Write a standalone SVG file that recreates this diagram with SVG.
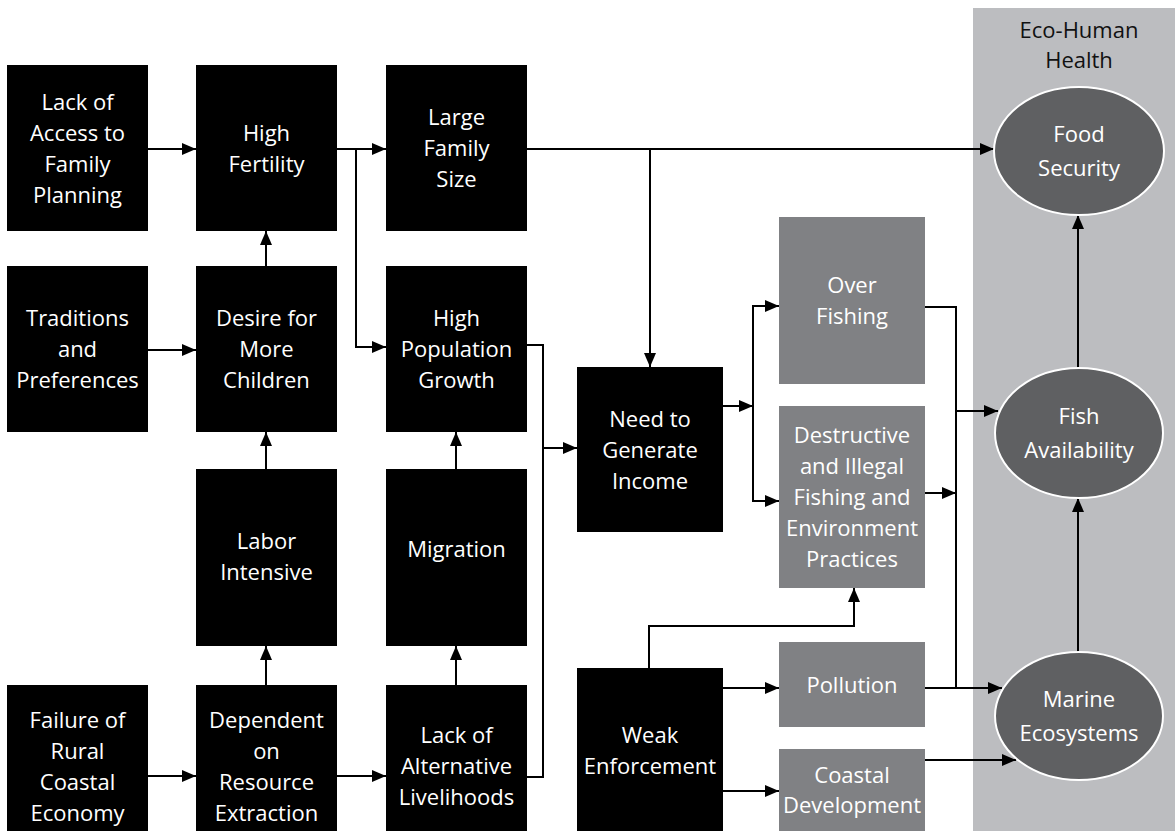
<svg xmlns="http://www.w3.org/2000/svg" width="1175" height="831" viewBox="0 0 1175 831">
<defs>
<marker id="arr" markerUnits="userSpaceOnUse" markerWidth="14" markerHeight="12" refX="14" refY="6" orient="auto">
<path d="M0,0 L14,6 L0,12 z" fill="#000"/>
</marker>
<style>
.b{fill:#000}
.g{fill:#808184}
.e{fill:#5f6062;stroke:#fff;stroke-width:2}
text{font-family:"Open Sans",Lato,"Liberation Sans",sans-serif;font-size:22px;fill:#fff;text-anchor:middle}
.h{fill:#111;font-size:22px}
.c{fill:none;stroke:#000;stroke-width:2}
.a{marker-end:url(#arr)}
</style>
</defs>
<rect width="1175" height="831" fill="#fff"/>
<rect id="panel" x="973" y="8" width="202" height="823" fill="#bcbdc0"/>
<text class="h" x="1079" y="38">Eco-Human</text>
<text class="h" x="1079" y="68">Health</text>

<g id="connectors">
<path class="c a" d="M148,149 H196"/>
<path class="c a" d="M337,149 H386"/>
<path class="c a" d="M356,149 V347 H386"/>
<path class="c a" d="M148,350 H196"/>
<path class="c a" d="M266,266 V231"/>
<path class="c a" d="M266,469 V432"/>
<path class="c a" d="M266,685 V646"/>
<path class="c a" d="M148,776 H196"/>
<path class="c a" d="M337,776 H386"/>
<path class="c a" d="M456,685 V646"/>
<path class="c a" d="M456,469 V432"/>
<path class="c" d="M527,345 H543 V777 H527"/>
<path class="c a" d="M543,448 H577"/>
<path class="c a" d="M527,149 H994"/>
<path class="c a" d="M650,149 V367"/>
<path class="c a" d="M723,406 H753"/>
<path class="c a" d="M753,406 V306 H779"/>
<path class="c a" d="M753,406 V501 H779"/>
<path class="c" d="M925,307 H956 V688"/>
<path class="c a" d="M956,411 H998"/>
<path class="c a" d="M925,493 H956"/>
<path class="c a" d="M925,688 H1002"/>
<path class="c a" d="M925,760 H1016"/>
<path class="c a" d="M1078,652 V498"/>
<path class="c a" d="M1078,368 V215"/>
<path class="c a" d="M649,668 V626 H854 V588"/>
<path class="c a" d="M723,688 H779"/>
<path class="c a" d="M723,791 H779"/>
</g>

<g id="lack-access"><rect class="b" x="7" y="65" width="141" height="166"/>
<text x="77.5" y="109.5">Lack of</text><text x="77.5" y="140.5">Access to</text><text x="77.5" y="171.5">Family</text><text x="77.5" y="202.5">Planning</text></g>
<g id="high-fertility"><rect class="b" x="196" y="65" width="141" height="166"/>
<text x="266.5" y="140.5">High</text><text x="266.5" y="171.5">Fertility</text></g>
<g id="large-family"><rect class="b" x="386" y="65" width="141" height="166"/>
<text x="456.5" y="125">Large</text><text x="456.5" y="156">Family</text><text x="456.5" y="187">Size</text></g>
<g id="traditions"><rect class="b" x="7" y="266" width="141" height="166"/>
<text x="77.5" y="326">Traditions</text><text x="77.5" y="357">and</text><text x="77.5" y="388">Preferences</text></g>
<g id="desire"><rect class="b" x="196" y="266" width="141" height="166"/>
<text x="266.5" y="326">Desire for</text><text x="266.5" y="357">More</text><text x="266.5" y="388">Children</text></g>
<g id="high-pop"><rect class="b" x="386" y="266" width="141" height="166"/>
<text x="456.5" y="326">High</text><text x="456.5" y="357">Population</text><text x="456.5" y="388">Growth</text></g>
<g id="labor"><rect class="b" x="196" y="469" width="141" height="177"/>
<text x="266.5" y="549">Labor</text><text x="266.5" y="580">Intensive</text></g>
<g id="migration"><rect class="b" x="386" y="469" width="141" height="177"/>
<text x="456.5" y="557">Migration</text></g>
<g id="failure"><rect class="b" x="7" y="685" width="141" height="146"/>
<text x="77.5" y="728">Failure of</text><text x="77.5" y="759">Rural</text><text x="77.5" y="790">Coastal</text><text x="77.5" y="821">Economy</text></g>
<g id="dependent"><rect class="b" x="196" y="685" width="141" height="146"/>
<text x="266.5" y="728">Dependent</text><text x="266.5" y="759">on</text><text x="266.5" y="790">Resource</text><text x="266.5" y="821">Extraction</text></g>
<g id="lack-alt"><rect class="b" x="386" y="685" width="141" height="146"/>
<text x="456.5" y="743">Lack of</text><text x="456.5" y="774">Alternative</text><text x="456.5" y="805">Livelihoods</text></g>
<g id="need-income"><rect class="b" x="577" y="367" width="146" height="165"/>
<text x="650" y="427">Need to</text><text x="650" y="458">Generate</text><text x="650" y="489">Income</text></g>
<g id="weak"><rect class="b" x="577" y="668" width="146" height="163"/>
<text x="650" y="743">Weak</text><text x="650" y="774">Enforcement</text></g>
<g id="over-fishing"><rect class="g" x="779" y="217" width="146" height="167"/>
<text x="852" y="293">Over</text><text x="852" y="324">Fishing</text></g>
<g id="destructive"><rect class="g" x="779" y="406" width="146" height="182"/>
<text x="852" y="443">Destructive</text><text x="852" y="474">and Illegal</text><text x="852" y="505">Fishing and</text><text x="852" y="536">Environment</text><text x="852" y="567">Practices</text></g>
<g id="pollution"><rect class="g" x="779" y="642" width="146" height="85"/>
<text x="852" y="693">Pollution</text></g>
<g id="coastal"><rect class="g" x="779" y="749" width="146" height="82"/>
<text x="852" y="783">Coastal</text><text x="852" y="813">Development</text></g>
<g id="food"><ellipse class="e" cx="1079" cy="151" rx="85" ry="64"/>
<text x="1079" y="142">Food</text><text x="1079" y="176">Security</text></g>
<g id="fish"><ellipse class="e" cx="1079" cy="433" rx="84" ry="65"/>
<text x="1079" y="424">Fish</text><text x="1079" y="458">Availability</text></g>
<g id="marine"><ellipse class="e" cx="1079" cy="716" rx="84" ry="64"/>
<text x="1079" y="707">Marine</text><text x="1079" y="741">Ecosystems</text></g>
</svg>
